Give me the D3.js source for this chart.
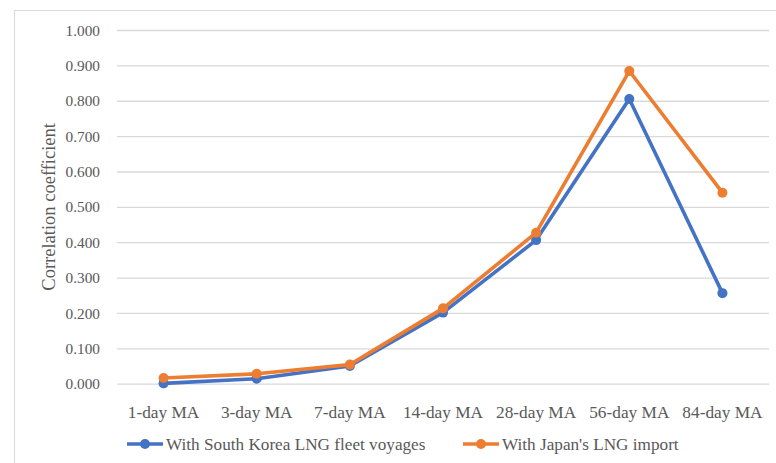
<!DOCTYPE html>
<html>
<head>
<meta charset="utf-8">
<script src="https://cdn.jsdelivr.net/npm/d3@7/dist/d3.min.js"></script>
<style>
  html, body { margin: 0; padding: 0; background: #fff; }
</style>
</head>
<body>
<svg id="chart" width="776" height="463"></svg>
<script>
// Moving-average windows on the x axis
const categories = ["1-day MA", "3-day MA", "7-day MA", "14-day MA", "28-day MA", "56-day MA", "84-day MA"];
// Correlation coefficients for each series
const koreaFleetVoyages = [0.001, 0.014, 0.050, 0.201, 0.406, 0.805, 0.256];
const japanLngImport   = [0.016, 0.028, 0.054, 0.213, 0.427, 0.884, 0.540];
const yTicks = [0, 0.1, 0.2, 0.3, 0.4, 0.5, 0.6, 0.7, 0.8, 0.9, 1.0];

const seriesNames = ["With South Korea LNG fleet voyages", "With Japan's LNG import"];
const seriesColors = ["#4472C4", "#ED7D31"];
const series = [koreaFleetVoyages, japanLngImport];

const FONT = '"Liberation Serif", "Times New Roman", serif';
const TEXT = "#595959";

const svg = d3.select("#chart");
const W = 776, H = 463;

// Chart frame
svg.append("rect")
  .attr("x", 14.5).attr("y", 10.5)
  .attr("width", W + 10).attr("height", H + 10)
  .attr("fill", "#fff").attr("stroke", "#d9d9d9").attr("stroke-width", 1);

const plot = { left: 117, right: 769, top: 30, bottom: 383.7 };

const x = d3.scaleBand().domain(categories).range([plot.left, plot.right]);
const y = d3.scaleLinear().domain([0, 1]).range([plot.bottom, plot.top]);

// Horizontal gridlines + y tick labels
const yAxis = d3.axisLeft(y)
  .tickValues(yTicks)
  .tickFormat(d3.format(".3f"))
  .tickSize(-(plot.right - plot.left))
  .tickPadding(17);

const gy = svg.append("g")
  .attr("transform", `translate(${plot.left},0)`)
  .call(yAxis)
  .attr("font-family", FONT);
gy.select(".domain").remove();
gy.selectAll(".tick line").attr("stroke", "#d9d9d9").attr("stroke-width", 1.3);
gy.selectAll(".tick text")
  .style("font-family", FONT)
  .style("font-size", "15.3px")
  .style("fill", TEXT)
  .attr("dy", "0.33em");

// Category labels
const xAxis = d3.axisBottom(x).tickSize(0).tickPadding(22);
const gx = svg.append("g")
  .attr("transform", `translate(0,${plot.bottom})`)
  .call(xAxis)
  .attr("font-family", FONT);
gx.select(".domain").remove();
gx.selectAll(".tick text")
  .style("font-family", FONT)
  .style("font-size", "17.3px")
  .style("fill", TEXT);

// Y axis title
svg.append("text")
  .attr("transform", `translate(55,${(plot.top + plot.bottom) / 2}) rotate(-90)`)
  .attr("text-anchor", "middle")
  .style("font-family", FONT)
  .style("font-size", "18.5px")
  .style("fill", TEXT)
  .text("Correlation coefficient");

// Lines and markers
const cx = d => x(d) + x.bandwidth() / 2;
const line = d3.line()
  .x((d, i) => cx(categories[i]))
  .y(d => y(d));

series.forEach((vals, si) => {
  const g = svg.append("g");
  g.append("path")
    .datum(vals)
    .attr("fill", "none")
    .attr("stroke", seriesColors[si])
    .attr("stroke-width", 3.6)
    .attr("stroke-linejoin", "round")
    .attr("stroke-linecap", "round")
    .attr("d", line);
  g.selectAll("circle")
    .data(vals)
    .join("circle")
    .attr("cx", (d, i) => cx(categories[i]))
    .attr("cy", d => y(d))
    .attr("r", 5)
    .attr("fill", seriesColors[si]);
});

// Legend
const legendY = 444;
const legendItems = [{ x: 127 }, { x: 463 }];
legendItems.forEach((it, i) => {
  const g = svg.append("g").attr("transform", `translate(${it.x},${legendY})`);
  g.append("line")
    .attr("x1", 0).attr("x2", 36).attr("y1", 0).attr("y2", 0)
    .attr("stroke", seriesColors[i]).attr("stroke-width", 3.6);
  g.append("circle").attr("cx", 18).attr("cy", 0).attr("r", 5).attr("fill", seriesColors[i]);
  g.append("text")
    .attr("x", 39).attr("y", 0).attr("dy", "0.33em")
    .style("font-family", FONT)
    .style("font-size", "17.2px")
    .style("fill", TEXT)
    .text(seriesNames[i]);
});
</script>
</body>
</html>
